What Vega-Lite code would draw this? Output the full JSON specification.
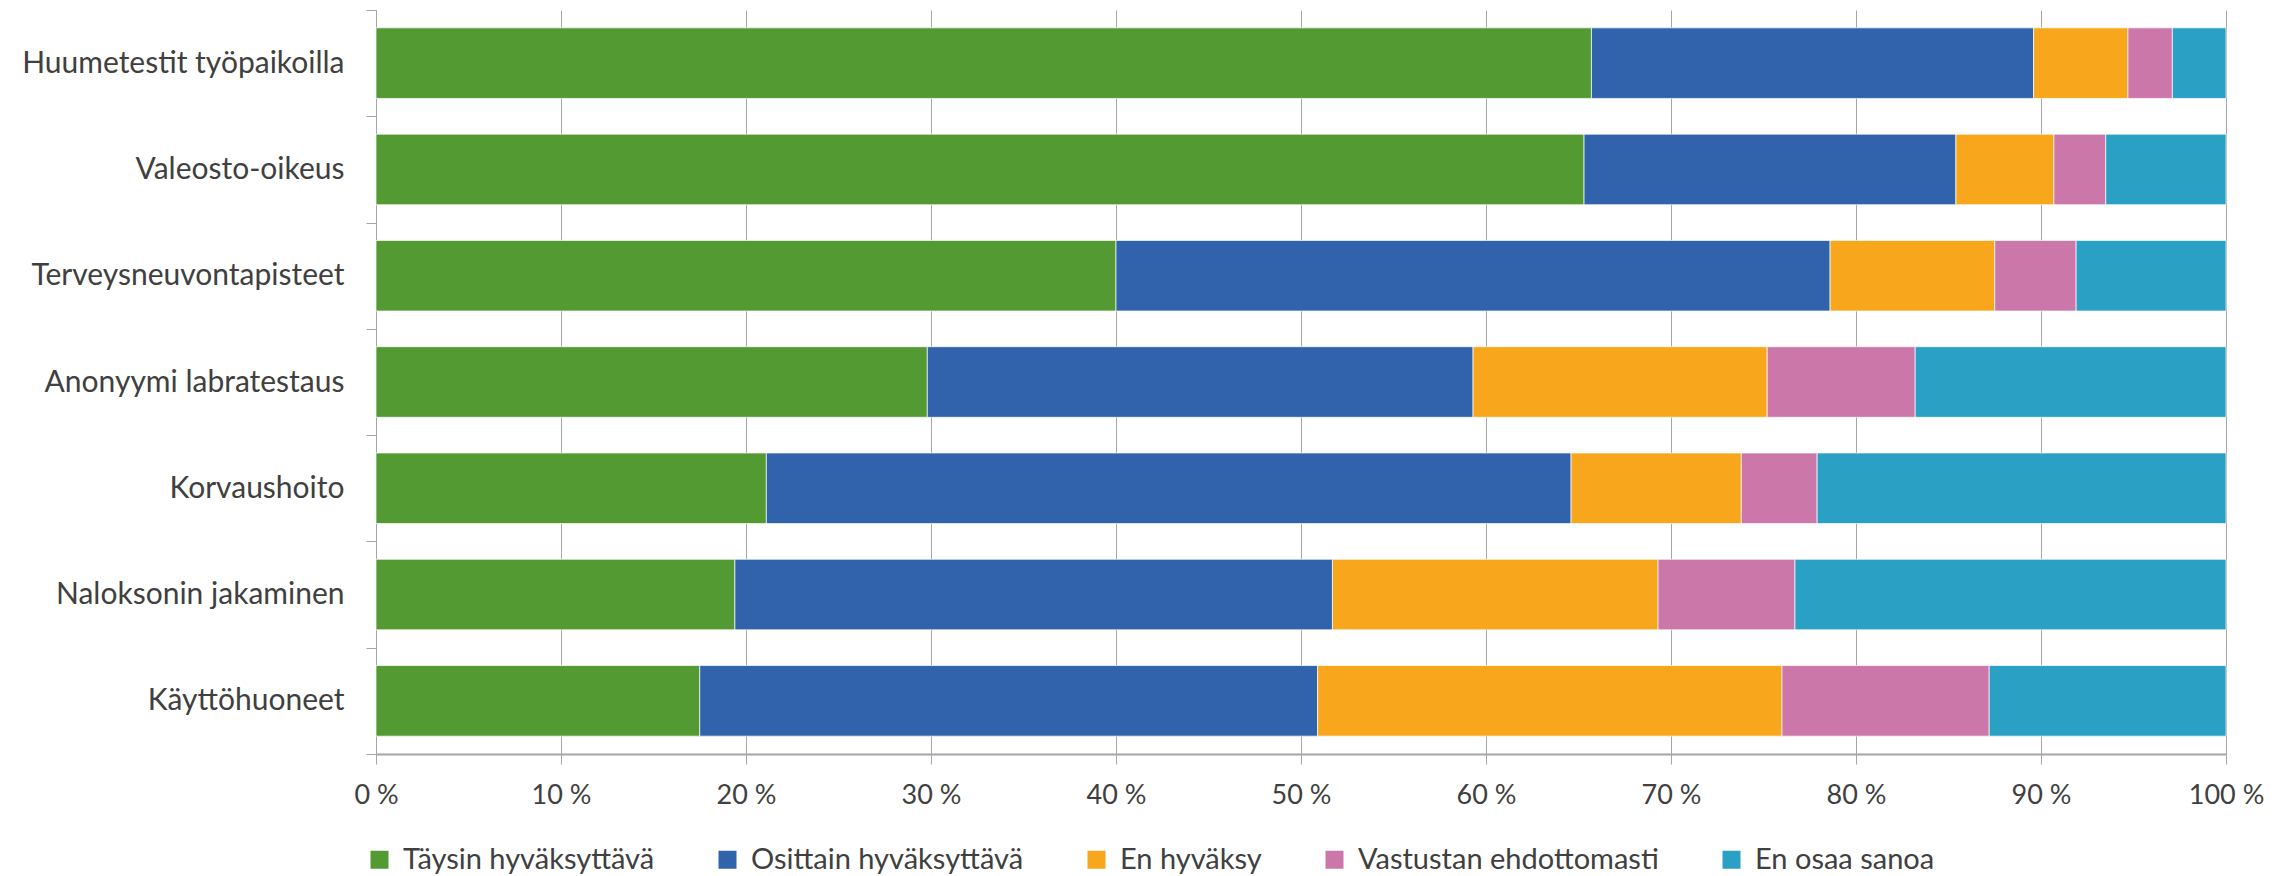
{
  "$schema": "https://vega.github.io/schema/vega-lite/v6.json",
  "width": 1850,
  "height": 744,
  "autosize": {"type": "none"},
  "padding": {"left": 376, "top": 10, "right": 69, "bottom": 122},
  "background": "white",
  "config": {
    "font": "Lato",
    "view": {"stroke": null},
    "axis": {"labelColor": "#404040", "labelFontWeight": "normal"},
    "legend": {"labelColor": "#404040"}
  },
  "data": {
    "values": [
      {"kohde": "Huumetestit työpaikoilla", "vastaus": "Täysin hyväksyttävä", "j": 1, "osuus": 65.7},
      {"kohde": "Huumetestit työpaikoilla", "vastaus": "Osittain hyväksyttävä", "j": 2, "osuus": 23.9},
      {"kohde": "Huumetestit työpaikoilla", "vastaus": "En hyväksy", "j": 3, "osuus": 5.1},
      {"kohde": "Huumetestit työpaikoilla", "vastaus": "Vastustan ehdottomasti", "j": 4, "osuus": 2.4},
      {"kohde": "Huumetestit työpaikoilla", "vastaus": "En osaa sanoa", "j": 5, "osuus": 2.9},
      {"kohde": "Valeosto-oikeus", "vastaus": "Täysin hyväksyttävä", "j": 1, "osuus": 65.3},
      {"kohde": "Valeosto-oikeus", "vastaus": "Osittain hyväksyttävä", "j": 2, "osuus": 20.1},
      {"kohde": "Valeosto-oikeus", "vastaus": "En hyväksy", "j": 3, "osuus": 5.3},
      {"kohde": "Valeosto-oikeus", "vastaus": "Vastustan ehdottomasti", "j": 4, "osuus": 2.8},
      {"kohde": "Valeosto-oikeus", "vastaus": "En osaa sanoa", "j": 5, "osuus": 6.5},
      {"kohde": "Terveysneuvontapisteet", "vastaus": "Täysin hyväksyttävä", "j": 1, "osuus": 40.0},
      {"kohde": "Terveysneuvontapisteet", "vastaus": "Osittain hyväksyttävä", "j": 2, "osuus": 38.6},
      {"kohde": "Terveysneuvontapisteet", "vastaus": "En hyväksy", "j": 3, "osuus": 8.9},
      {"kohde": "Terveysneuvontapisteet", "vastaus": "Vastustan ehdottomasti", "j": 4, "osuus": 4.4},
      {"kohde": "Terveysneuvontapisteet", "vastaus": "En osaa sanoa", "j": 5, "osuus": 8.1},
      {"kohde": "Anonyymi labratestaus", "vastaus": "Täysin hyväksyttävä", "j": 1, "osuus": 29.8},
      {"kohde": "Anonyymi labratestaus", "vastaus": "Osittain hyväksyttävä", "j": 2, "osuus": 29.5},
      {"kohde": "Anonyymi labratestaus", "vastaus": "En hyväksy", "j": 3, "osuus": 15.9},
      {"kohde": "Anonyymi labratestaus", "vastaus": "Vastustan ehdottomasti", "j": 4, "osuus": 8.0},
      {"kohde": "Anonyymi labratestaus", "vastaus": "En osaa sanoa", "j": 5, "osuus": 16.8},
      {"kohde": "Korvaushoito", "vastaus": "Täysin hyväksyttävä", "j": 1, "osuus": 21.1},
      {"kohde": "Korvaushoito", "vastaus": "Osittain hyväksyttävä", "j": 2, "osuus": 43.5},
      {"kohde": "Korvaushoito", "vastaus": "En hyväksy", "j": 3, "osuus": 9.2},
      {"kohde": "Korvaushoito", "vastaus": "Vastustan ehdottomasti", "j": 4, "osuus": 4.1},
      {"kohde": "Korvaushoito", "vastaus": "En osaa sanoa", "j": 5, "osuus": 22.1},
      {"kohde": "Naloksonin jakaminen", "vastaus": "Täysin hyväksyttävä", "j": 1, "osuus": 19.4},
      {"kohde": "Naloksonin jakaminen", "vastaus": "Osittain hyväksyttävä", "j": 2, "osuus": 32.3},
      {"kohde": "Naloksonin jakaminen", "vastaus": "En hyväksy", "j": 3, "osuus": 17.6},
      {"kohde": "Naloksonin jakaminen", "vastaus": "Vastustan ehdottomasti", "j": 4, "osuus": 7.4},
      {"kohde": "Naloksonin jakaminen", "vastaus": "En osaa sanoa", "j": 5, "osuus": 23.3},
      {"kohde": "Käyttöhuoneet", "vastaus": "Täysin hyväksyttävä", "j": 1, "osuus": 17.5},
      {"kohde": "Käyttöhuoneet", "vastaus": "Osittain hyväksyttävä", "j": 2, "osuus": 33.4},
      {"kohde": "Käyttöhuoneet", "vastaus": "En hyväksy", "j": 3, "osuus": 25.1},
      {"kohde": "Käyttöhuoneet", "vastaus": "Vastustan ehdottomasti", "j": 4, "osuus": 11.2},
      {"kohde": "Käyttöhuoneet", "vastaus": "En osaa sanoa", "j": 5, "osuus": 12.8}
    ]
  },
  "mark": {"type": "bar", "height": {"band": 0.664}, "stroke": "white", "strokeWidth": 1, "strokeOpacity": 0.7},
  "encoding": {
    "y": {
      "field": "kohde",
      "type": "nominal",
      "sort": ["Huumetestit työpaikoilla", "Valeosto-oikeus", "Terveysneuvontapisteet", "Anonyymi labratestaus", "Korvaushoito", "Naloksonin jakaminen", "Käyttöhuoneet"],
      "scale": {"paddingInner": 0, "paddingOuter": 0},
      "axis": {
        "title": null,
        "tickBand": "extent",
        "grid": false,
        "tickSize": 10,
        "tickColor": "#a6a6a6",
        "domainColor": "#a6a6a6",
        "labelFontSize": 30,
        "labelPadding": 22,
        "labelLimit": 400
      }
    },
    "x": {
      "field": "osuus",
      "type": "quantitative",
      "stack": "zero",
      "scale": {"domain": [0, 100], "nice": false},
      "axis": {
        "title": null,
        "values": [0, 10, 20, 30, 40, 50, 60, 70, 80, 90, 100],
        "labelExpr": "datum.value + ' %'",
        "grid": true,
        "gridColor": "#a6a6a6",
        "tickSize": 10,
        "tickColor": "#a6a6a6",
        "domainColor": "#a6a6a6",
        "domainWidth": 2,
        "labelFontSize": 27,
        "labelPadding": 18,
        "labelFlush": false
      }
    },
    "color": {
      "field": "vastaus",
      "type": "nominal",
      "scale": {
        "domain": ["Täysin hyväksyttävä", "Osittain hyväksyttävä", "En hyväksy", "Vastustan ehdottomasti", "En osaa sanoa"],
        "range": ["#539a32", "#3063ac", "#f8a71c", "#cb77a9", "#29a0c4"]
      },
      "legend": {
        "title": null,
        "orient": "none",
        "direction": "horizontal",
        "legendX": -11,
        "legendY": 835,
        "symbolType": "square",
        "symbolSize": 324,
        "symbolStrokeWidth": 0,
        "symbolOpacity": 1,
        "labelFontSize": 29,
        "labelOffset": 9,
        "columnPadding": 58,
        "labelLimit": 500
      }
    },
    "order": {"field": "j", "type": "quantitative"}
  }
}
